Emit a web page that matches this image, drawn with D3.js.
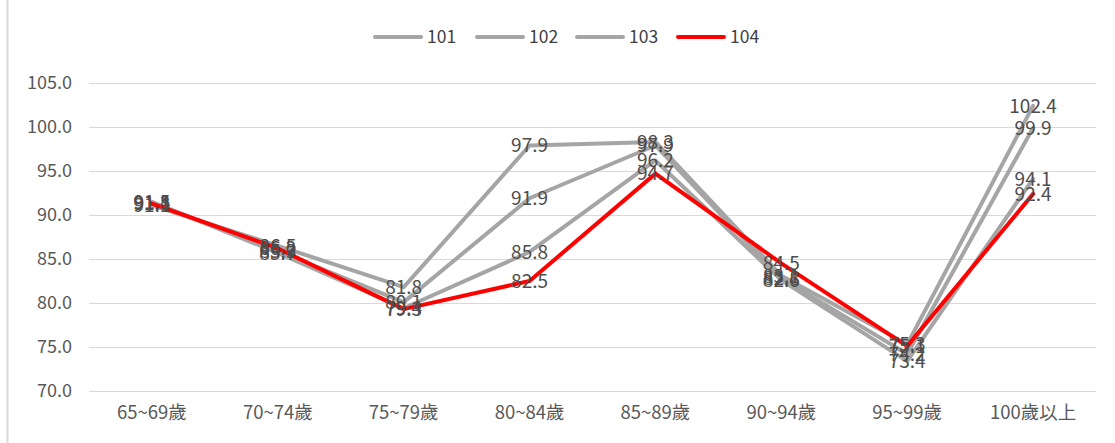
<!DOCTYPE html>
<html><head><meta charset="utf-8">
<script src="https://cdn.jsdelivr.net/npm/d3@7"></script>
<style>body{margin:0;background:#fff}svg{display:block}text{font-family:"Noto Sans CJK TC","Noto Sans",sans-serif}</style>
</head><body><div id="c"></div>
<script>
const categories = ["65~69歲","70~74歲","75~79歲","80~84歲","85~89歲","90~94歲","95~99歲","100歲以上"];
const seriesNames = ["101","102","103","104"];
const s101 = [91.1, 86.5, 81.8, 97.9, 98.3, 83.1, 75.3, 102.4];
const s102 = [91.4, 85.9, 80.1, 91.9, 97.9, 82.8, 74.2, 99.9];
const s103 = [91.5, 85.7, 79.4, 85.8, 96.2, 82.6, 73.4, 94.1];
const s104 = [91.3, 86.2, 79.3, 82.5, 94.7, 84.5, 75.1, 92.4];
const yTicks = [70, 75, 80, 85, 90, 95, 100, 105];
const colors = ["#a5a5a5","#a5a5a5","#a5a5a5","#ff0000"];

const W = 1115, H = 443;
const svg = d3.select("#c").append("svg").attr("width", W).attr("height", H);
const data = [s101, s102, s103, s104].map((v,i)=>({name:seriesNames[i], values:v, color:colors[i]}));

const x = d3.scaleBand().domain(categories).range([89, 1096]);
const y = d3.scaleLinear().domain([70, 105]).range([391, 83]);

// frame line
svg.append("line").attr("x1",7.5).attr("x2",7.5).attr("y1",0).attr("y2",H).attr("stroke","#d9d9d9").attr("stroke-width",2);

// gridlines
svg.append("g").selectAll("line").data(yTicks).join("line")
  .attr("x1",89).attr("x2",1096)
  .attr("y1",d=>Math.round(y(d))+0.5).attr("y2",d=>Math.round(y(d))+0.5)
  .attr("stroke","#d9d9d9").attr("stroke-width",1);

// y axis labels
const yAxis = d3.axisLeft(y).tickValues(yTicks).tickFormat(d3.format(".1f")).tickSize(0).tickPadding(0);
const ga = svg.append("g").attr("transform","translate(72,0)").call(yAxis);
ga.select(".domain").remove();
ga.selectAll("text").attr("fill","#595959").style("font-size","18px").attr("font-family",null);

// x axis labels
const xAxis = d3.axisBottom(x).tickSize(0).tickPadding(0);
const gx = svg.append("g").attr("transform","translate(0,406)").call(xAxis);
gx.select(".domain").remove();
gx.selectAll("text").attr("fill","#595959").style("font-size","18.5px").attr("font-family",null);

const line = d3.line().x((d,i)=>x(categories[i])+x.bandwidth()/2).y(d=>y(d));
svg.append("g").selectAll("path").data(data).join("path")
  .attr("d", d=>line(d.values)).attr("fill","none")
  .attr("stroke", d=>d.color).attr("stroke-width",4).attr("stroke-linejoin","round").attr("stroke-linecap","round");

// data labels
const lg = svg.append("g");
data.forEach(s=>{
  lg.selectAll(null).data(s.values).join("text")
    .attr("x",(d,i)=>x(categories[i])+x.bandwidth()/2)
    .attr("y",d=>y(d)).attr("dy","0.36em")
    .attr("text-anchor","middle").attr("fill","#4d4d4d").style("font-size","19px")
    .text(d=>d3.format(".1f")(d));
});

// legend
const legX = [375, 477, 577, 678];
const leg = svg.append("g");
data.forEach((s,i)=>{
  leg.append("line").attr("x1",legX[i]).attr("x2",legX[i]+46).attr("y1",37).attr("y2",37)
    .attr("stroke",s.color).attr("stroke-width",4).attr("stroke-linecap","round");
  leg.append("text").attr("x",legX[i]+52).attr("y",37).attr("dy","0.36em")
    .attr("fill","#404040").style("font-size","17.5px").text(s.name);
});
</script></body></html>
